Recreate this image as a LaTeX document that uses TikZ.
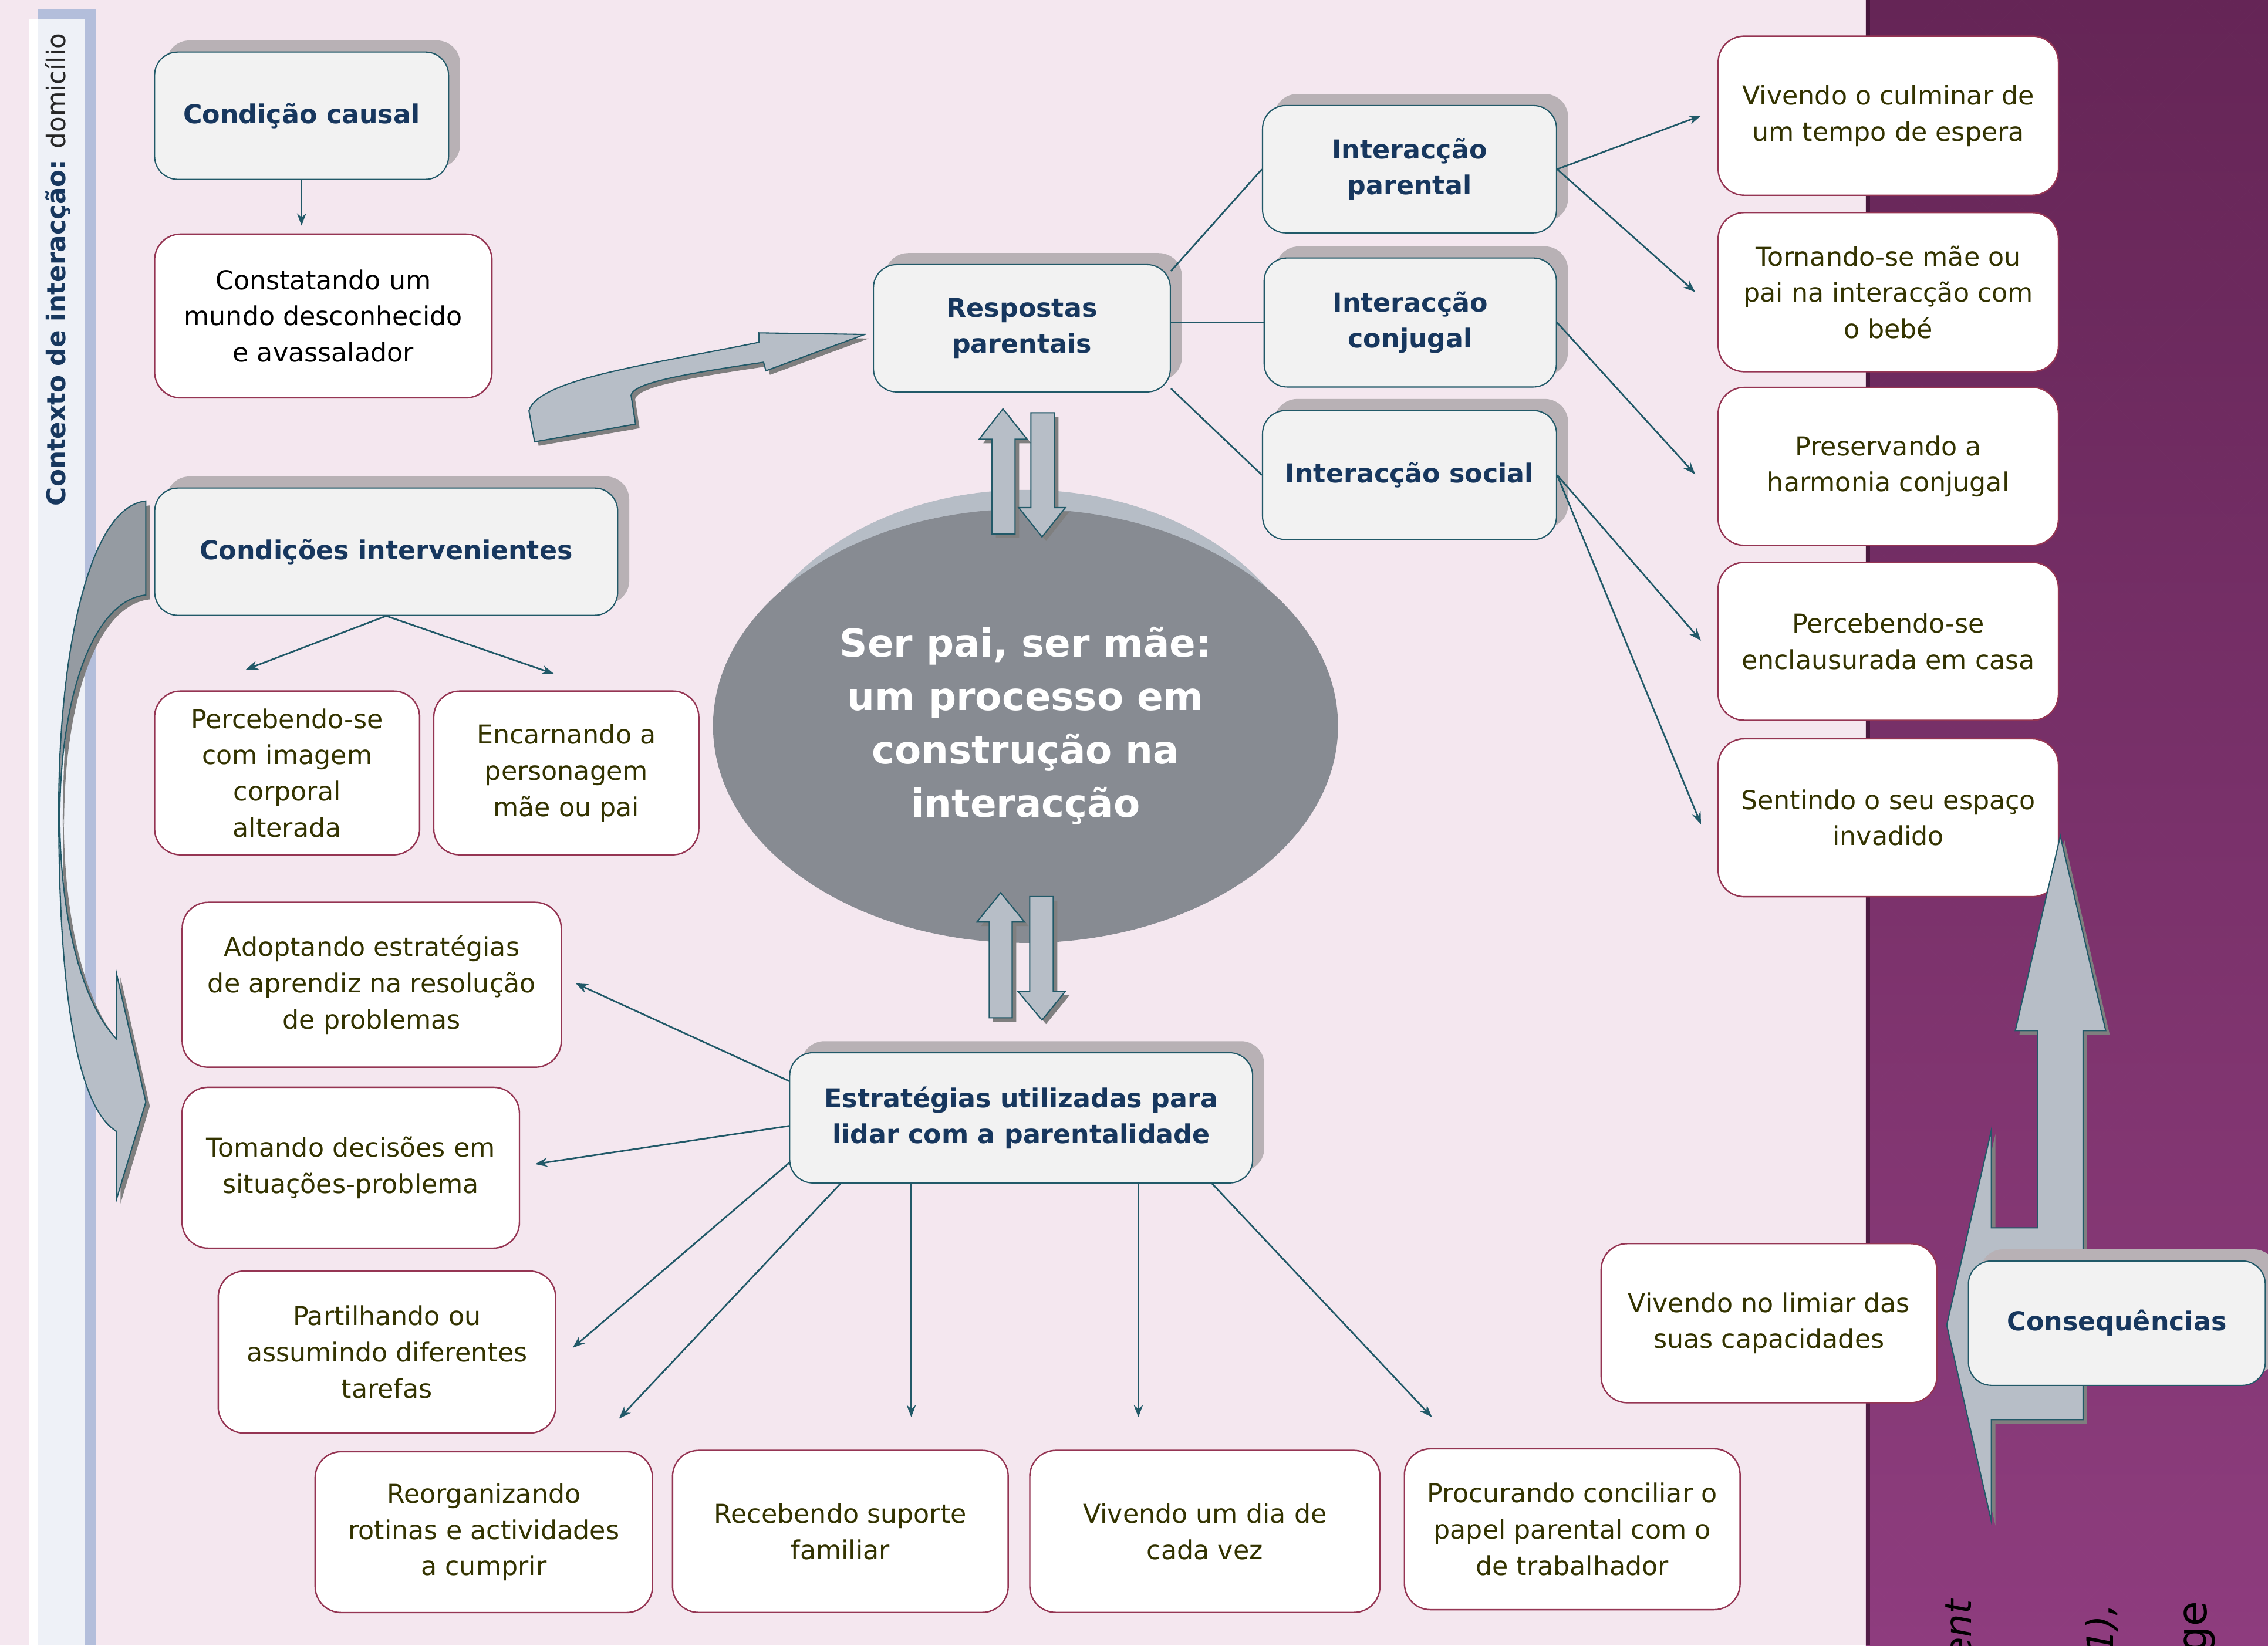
\documentclass[tikz,border=0pt]{standalone}
\usepackage{fontspec}
\setmainfont{DejaVu Sans}
\usetikzlibrary{arrows.meta,shadows,shapes.geometric}

\definecolor{bgpink}{HTML}{F4E7EF}
\definecolor{purpletop}{HTML}{5F1D50}
\definecolor{purplebot}{HTML}{8A3579}
\definecolor{navy}{HTML}{17375E}
\definecolor{linkteal}{HTML}{215968}
\definecolor{boxmaroon}{HTML}{953553}
\definecolor{headfill}{HTML}{F2F2F2}
\definecolor{shadegrey}{HTML}{B8B1B5}
\definecolor{textolive}{HTML}{333300}
\definecolor{arrowfill}{HTML}{B7BEC7}
\definecolor{arrowdark}{HTML}{959BA2}
\definecolor{arrowshade}{HTML}{7F7F7F}
\definecolor{ellgrey}{HTML}{878B92}
\definecolor{elllight}{HTML}{B6BDC6}
\definecolor{barblue}{HTML}{B3BEDB}
\definecolor{barlight}{HTML}{EEF1F7}

\newcommand\boxfont{\fontsize{12.8}{17.8}\selectfont}
\newcommand\corefont{\fontsize{19}{26.3}\selectfont\bfseries}

\tikzset{
  headbox/.style={draw=linkteal, line width=0.6pt, fill=headfill, rounded corners=0.4cm,
    align=center, inner sep=0pt, text=navy, font=\boxfont\bfseries,
    general shadow={fill=shadegrey, shadow xshift=0.2cm, shadow yshift=0.2cm}},
  itembox/.style={draw=boxmaroon, line width=0.7pt, fill=white, rounded corners=0.45cm,
    align=center, inner sep=0pt, text=textolive, font=\boxfont},
  link/.style={draw=linkteal, line width=0.8pt},
  linkarrow/.style={link, -{Stealth[length=6pt, width=4.5pt]}},
  blockarrow/.style={draw=linkteal, line width=0.6pt, fill=arrowfill,
    general shadow={fill=arrowshade, shadow xshift=0.07cm, shadow yshift=-0.07cm}},
  fragment/.style={rotate=90, anchor=east, inner sep=0pt, text=black},
  diamondtint/.style={fill=white, opacity=0.04},
}

\begin{document}
\begin{tikzpicture}[x=0.025cm, y=-0.025cm]
  \useasboundingbox (0,0) rectangle (1568,1138);
  % background
  \fill[bgpink] (0,0) rectangle (1568,1138);
  \shade[top color=purpletop, bottom color=purplebot] (1290,0) rectangle (1568,1138);
  \begin{scope}
    \clip (1290,0) rectangle (1568,1138);
    \foreach \j in {0,...,95} {
      \pgfmathsetmacro\rowshift{12*mod(\j,2)}
      \foreach \i in {0,...,12}
        \fill[diamondtint] ({1290+24*\i+\rowshift},{12*\j}) ++(-12,0) -- ++(12,-12) -- ++(12,12) -- ++(-12,12) -- cycle;
    }
  \end{scope}
  \fill[purpletop!60!black, opacity=0.7] (1290,0) rectangle (1293,1138);
  \node[fragment, font=\fontsize{18}{20}\selectfont\itshape] (fraga) at (1354,1106) {ent};
  \node[fragment, font=\fontsize{18}{20}\selectfont\itshape] (fragb) at (1453,1109) {1),};
  \node[fragment, font=\fontsize{20}{22}\selectfont] (fragc) at (1520.5,1107) {ge};

  % context bar
  \fill[barblue] (26,6) rectangle (66,1138);
  \fill[white] (20,13) rectangle (59,1138);
  \fill[barlight] (26,13) rectangle (59,1138);
  \node[rotate=90, inner sep=0pt, font=\fontsize{12.6}{15}\selectfont, text=black!85] (ctx) at (40,186.5)
    {\textcolor{navy}{\bfseries Contexto de interacção:} domicílio};

  % curved arrow to the strategies
  \fill[arrowshade] (103.5,349.5) .. controls (65,353) and (43.6,453) .. (43.6,563)
    -- (44.3,570) .. controls (44.3,483) and (68,418) .. (103.5,414.5) -- cycle;
  \filldraw[draw=linkteal, line width=0.6pt, fill=arrowdark] (100.8,346.5) .. controls (62,350) and (40.6,450) .. (40.6,560)
    -- (41.3,567) .. controls (41.3,480) and (65,415) .. (100.8,411.5) -- cycle;
  \filldraw[blockarrow] (41.3,567) .. controls (42,640) and (58,695) .. (80.5,718.4)
    -- (80.5,673) -- (100.8,762.1) -- (80.5,829.5) -- (80.5,782.3)
    .. controls (52,765) and (40.6,680) .. (40.6,560) -- cycle;

  % curved arrow to the responses
  \filldraw[blockarrow] (369.6,305.5) -- (439.4,293.3) -- (436.3,273.3)
    .. controls (438,265) and (470,259) .. (527.9,250.5) -- (529.5,256.4) -- (597.8,231.3)
    -- (524.8,230.2) -- (524.7,236.7) .. controls (450,252) and (372,262) .. (365.7,284.1) -- cycle;

  % core
  \fill[elllight] (709,490) ellipse [x radius=5cm, y radius=3.78cm];
  \node[ellipse, fill=ellgrey, minimum width=10.8cm, minimum height=7.5cm, inner sep=0pt,
    align=center, text=white, font=\corefont] (core) at (709,502)
    {Ser pai, ser mãe:\\um processo em\\construção na\\interacção};

  % double arrows
  \filldraw[blockarrow] (693.4,282.7) -- (710,303.7) -- (701.8,303.7) -- (701.8,369.3)
    -- (685.7,369.3) -- (685.7,303.7) -- (677,303.7) -- cycle;
  \filldraw[blockarrow] (712.7,285.4) -- (729,285.4) -- (729,351) -- (736.6,351)
    -- (720.4,371.3) -- (704.3,351) -- (712.7,351) -- cycle;
  \filldraw[blockarrow] (691.8,617.4) -- (708.4,637.6) -- (699.8,637.6) -- (699.8,703.8)
    -- (683.9,703.8) -- (683.9,637.6) -- (675.4,637.6) -- cycle;
  \filldraw[blockarrow] (711.9,620) -- (728.2,620) -- (728.2,685.5) -- (736.6,685.5)
    -- (720.4,705.4) -- (703.7,685.5) -- (711.9,685.5) -- cycle;

  % left column
  \node[headbox, minimum width=5.08cm, minimum height=2.2cm] (ccaus) at (208.5,80) {Condição causal};
  \node[itembox, text=black, minimum width=5.83cm, minimum height=2.83cm] (const) at (223.5,218.5)
    {Constatando um\\mundo desconhecido\\e avassalador};
  \node[headbox, minimum width=8cm, minimum height=2.2cm] (cint) at (267,381.5) {Condições intervenientes};
  \node[itembox, minimum width=4.58cm, minimum height=2.83cm] (pimg) at (198.5,534.5)
    {Percebendo-se\\com imagem\\corporal\\alterada};
  \node[itembox, minimum width=4.58cm, minimum height=2.83cm] (encar) at (391.5,534.5)
    {Encarnando a\\personagem\\mãe ou pai};

  % strategies
  \node[headbox, minimum width=8cm, minimum height=2.25cm] (estr) at (706,773)
    {Estratégias utilizadas para\\lidar com a parentalidade};
  \node[itembox, minimum width=6.55cm, minimum height=2.85cm] (adopt) at (257,681)
    {Adoptando estratégias\\de aprendiz na resolução\\de problemas};
  \node[itembox, minimum width=5.83cm, minimum height=2.78cm] (tomdec) at (242.5,807.5)
    {Tomando decisões em\\situações-problema};
  \node[itembox, minimum width=5.83cm, minimum height=2.8cm] (partil) at (267.5,935)
    {Partilhando ou\\assumindo diferentes\\tarefas};
  \node[itembox, minimum width=5.83cm, minimum height=2.78cm] (reorg) at (334.5,1059.5)
    {Reorganizando\\rotinas e actividades\\a cumprir};
  \node[itembox, minimum width=5.8cm, minimum height=2.8cm] (recsup) at (581,1059)
    {Recebendo suporte\\familiar};
  \node[itembox, minimum width=6.05cm, minimum height=2.8cm] (diavez) at (833,1059)
    {Vivendo um dia de\\cada vez};
  \node[itembox, minimum width=5.8cm, minimum height=2.78cm] (concil) at (1087,1057.5)
    {Procurando conciliar o\\papel parental com o\\de trabalhador};

  % responses
  \node[headbox, minimum width=5.13cm, minimum height=2.2cm] (resp) at (706.5,227) {Respostas\\parentais};
  \node[headbox, minimum width=5.08cm, minimum height=2.2cm] (ipar) at (974.5,117) {Interacção\\parental};
  \node[headbox, minimum width=5.05cm, minimum height=2.23cm] (iconj) at (975,223) {Interacção\\conjugal};
  \node[headbox, minimum width=5.08cm, minimum height=2.23cm] (isoc) at (974.5,328.5) {Interacção social};
  \node[itembox, minimum width=5.88cm, minimum height=2.75cm] (culm) at (1305.5,80)
    {Vivendo o culminar de\\um tempo de espera};
  \node[itembox, minimum width=5.88cm, minimum height=2.75cm] (torn) at (1305.5,202)
    {Tornando-se mãe ou\\pai na interacção com\\o bebé};
  \node[itembox, minimum width=5.88cm, minimum height=2.73cm] (pres) at (1305.5,322.5)
    {Preservando a\\harmonia conjugal};
  \node[itembox, minimum width=5.88cm, minimum height=2.73cm] (encl) at (1305.5,443.5)
    {Percebendo-se\\enclausurada em casa};
  \node[itembox, minimum width=5.88cm, minimum height=2.73cm] (espac) at (1305.5,565.5)
    {Sentindo o seu espaço\\invadido};

  % consequences
  \node[itembox, minimum width=5.8cm, minimum height=2.75cm] (limiar) at (1223,915)
    {Vivendo no limiar das\\suas capacidades};
  \filldraw[blockarrow] (1424.4,578.1) -- (1455.8,712.7) -- (1440.1,712.7) -- (1440.1,981.8)
    -- (1376.7,981.8) -- (1376.7,1052) -- (1345.9,916.3) -- (1376.7,781.6) -- (1376.7,849.1)
    -- (1408.7,849.1) -- (1408.7,712.7) -- (1393.3,712.7) -- cycle;
  \node[headbox, minimum width=5.13cm, minimum height=2.15cm,
    general shadow={fill=shadegrey, opacity=0.6, shadow xshift=0.2cm, shadow yshift=0.2cm}]
    (conseq) at (1463.5,915) {Consequências};

  % arrow ends
  \coordinate (tconst) at (208.5,156);
  \coordinate (tpimg) at (170,463);
  \coordinate (tencar) at (383,466);
  \coordinate (tadopt) at (398,680);
  \coordinate (ttom) at (370,805);
  \coordinate (tpart) at (396,932);
  \coordinate (treorg) at (428,981);
  \coordinate (trec) at (630,980);
  \coordinate (tdia) at (787,980);
  \coordinate (tconc) at (990,980);
  \coordinate (tculm) at (1176,80);
  \coordinate (ttorn) at (1172,202);
  \coordinate (tpres) at (1172,328);
  \coordinate (tencl) at (1176,443);
  \coordinate (tespac) at (1176,570);

  % connectors
  \draw[linkarrow] (ccaus.south) -- (tconst);
  \draw[linkarrow] (cint.south) -- (tpimg);
  \draw[linkarrow] (cint.south) -- (tencar);
  \draw[linkarrow] (estr.171) -- (tadopt);
  \draw[linkarrow] (estr.182) -- (ttom);
  \draw[linkarrow] (estr.191) -- (tpart);
  \draw[linkarrow] (estr.200) -- (treorg);
  \draw[linkarrow] (estr.south -| trec) -- (trec);
  \draw[linkarrow] (estr.south -| tdia) -- (tdia);
  \draw[linkarrow] (estr.341) -- (tconc);
  \draw[link] (resp.21) -- (ipar.west);
  \draw[link] (resp.east |- iconj.west) -- (iconj.west);
  \draw[link] (resp.-22) -- (isoc.west);
  \draw[linkarrow] (ipar.east) -- (tculm);
  \draw[linkarrow] (ipar.east) -- (ttorn);
  \draw[linkarrow] (iconj.east) -- (tpres);
  \draw[linkarrow] (isoc.east) -- (tencl);
  \draw[linkarrow] (isoc.east) -- (tespac);
\end{tikzpicture}
\end{document}
